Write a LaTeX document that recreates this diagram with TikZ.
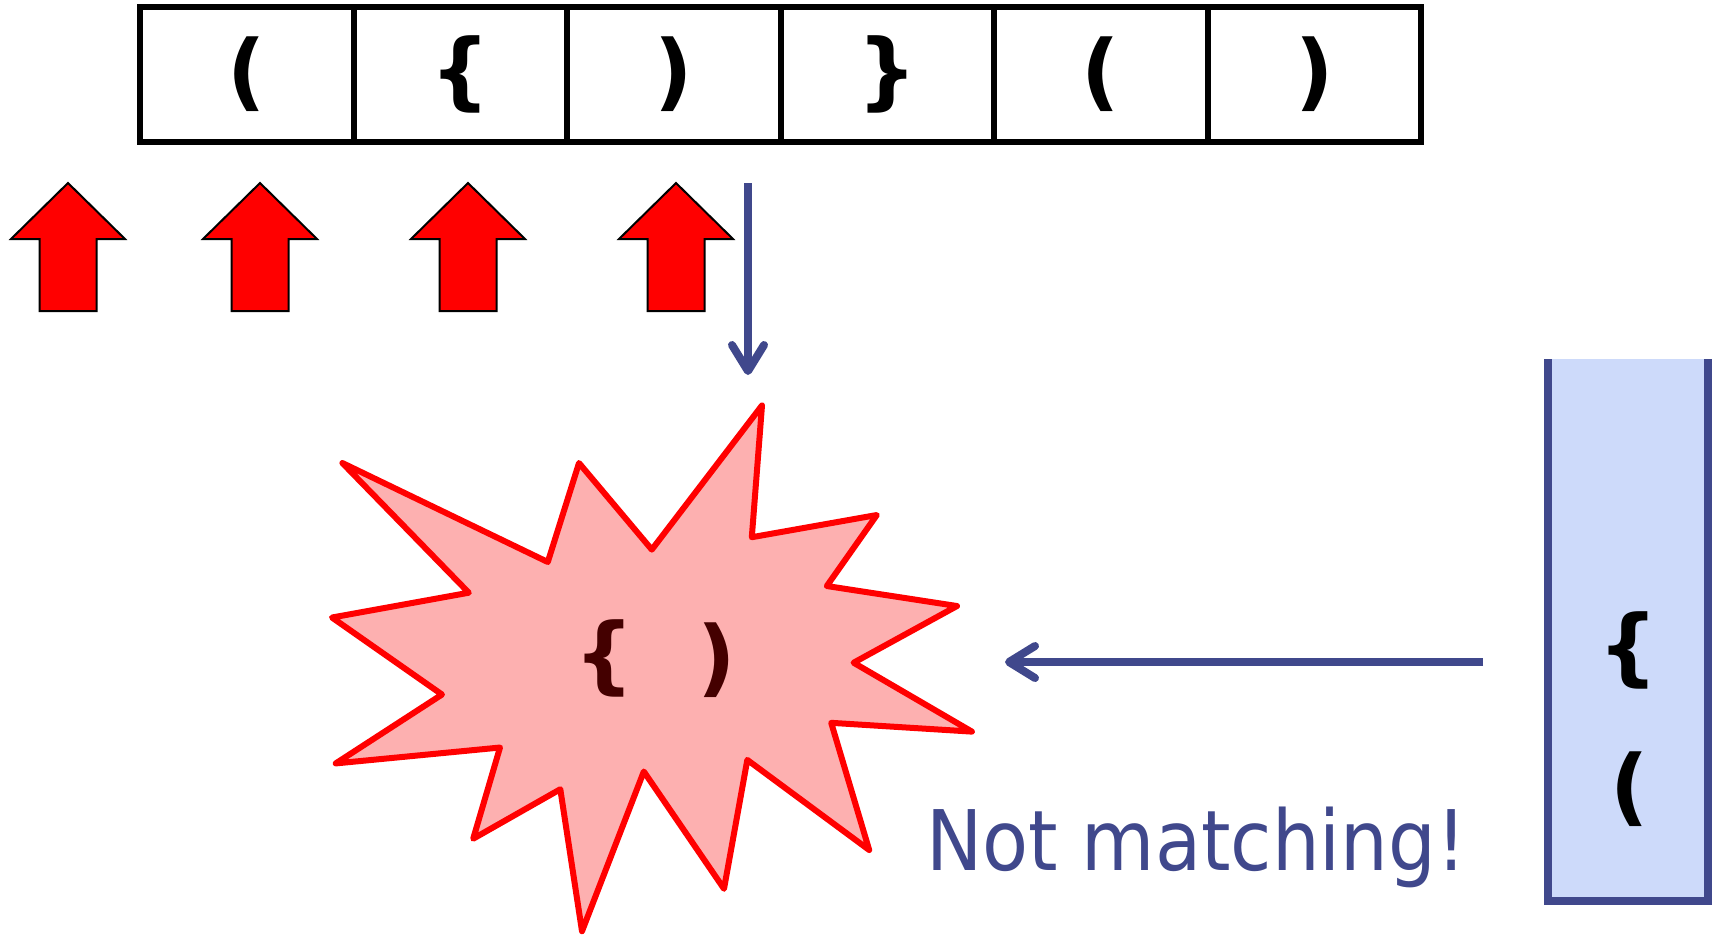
\documentclass[tikz,border=0pt]{standalone}
\usepackage{fontspec}
\setmainfont{DejaVu Sans}
\newfontfamily\condfont{DejaVu Sans Condensed}
\usetikzlibrary{arrows.meta}
\definecolor{navy}{RGB}{64,72,140}
\definecolor{stackfill}{RGB}{205,218,250}
\definecolor{burstfill}{RGB}{253,176,176}
\definecolor{darkred}{RGB}{68,0,0}
\begin{document}
\begin{tikzpicture}[x=0.5pt,y=-0.5pt,
  cell/.style={draw=black, line width=3pt, minimum width=106.75pt, minimum height=67.5pt,
    inner sep=0pt, outer sep=0pt, font=\fontsize{42}{42}\selectfont\bfseries},
  glyph/.style={inner sep=0pt, font=\fontsize{42}{42}\selectfont\bfseries},
  redup/.pic={\draw[fill=red, line width=1pt, line join=miter]
      (0,0) -- (57,56) -- (28.5,56) -- (28.5,128) -- (-28.5,128) -- (-28.5,56) -- (-57,56) -- cycle;},
  bluearrow/.style={draw=navy, line width=4pt,
      -{Straight Barb[length=13pt, width=16pt, round]}},
  burst/.style={draw=red, fill=burstfill, line width=3pt, line join=round},
  stackbox/.style={fill=stackfill, draw=none, minimum width=80pt, minimum height=271pt,
      inner sep=0pt, outer sep=0pt},
  stackside/.style={draw=navy, line width=4pt}
]
\useasboundingbox (0,0) rectangle (1716,934);

% input array
\node[cell] (c1) at (246.75,74.5) {(};
\node[cell] (c2) at (460.25,74.5) {\{};
\node[cell] (c3) at (673.75,74.5) {)};
\node[cell] (c4) at (887.25,74.5) {\}};
\node[cell] (c5) at (1100.75,74.5) {(};
\node[cell] (c6) at (1314.25,74.5) {)};

% red pointer arrows
\pic (u1) at (68,183) {redup};
\pic (u2) at (260,183) {redup};
\pic (u3) at (468,183) {redup};
\pic (u4) at (676,183) {redup};

% down arrow
\coordinate (dstart) at (748,183);
\coordinate (dend) at (748,375);
\draw[bluearrow] (dstart) -- (dend);

% burst
\draw[burst] (762,405.4) -- (751.8,537.2) -- (876.8,515) -- (826.8,586) -- (957,606)
  -- (853.6,662.7) -- (971.9,731.6) -- (831.2,722.8) -- (869.2,850) -- (747.3,759.9)
  -- (724,888.8) -- (643.8,771.5) -- (582,931.2) -- (560.3,789.2) -- (473.2,838.7)
  -- (500,747.5) -- (335.7,763.4) -- (442,694.5) -- (332,617.5) -- (468.8,592.7)
  -- (342.4,463) -- (547.8,562) -- (579,463) -- (651.8,549.6) -- cycle;
\node[glyph, text=darkred] (bl) at (604,658) {\{};
\node[glyph, text=darkred] (br) at (717,660.5) {)};

% stack
\node[stackbox] (stack) at (1628,630) {};
\draw[stackside] (stack.north west) -- (stack.south west) -- (stack.south east) -- (stack.north east);
\node[glyph] (s1) at (1628,650) {\{};
\node[glyph] (s2) at (1630,789) {(};

% horizontal arrow
\coordinate (hstart) at (1483,662);
\coordinate (hend) at (1005,662);
\draw[bluearrow] (hstart) -- (hend);

% message
\node[anchor=base west, inner sep=0pt, text=navy, font=\condfont\fontsize{41.8}{41.8}\selectfont]
  (msg) at (926,870) {Not matching!};
\end{tikzpicture}
\end{document}
